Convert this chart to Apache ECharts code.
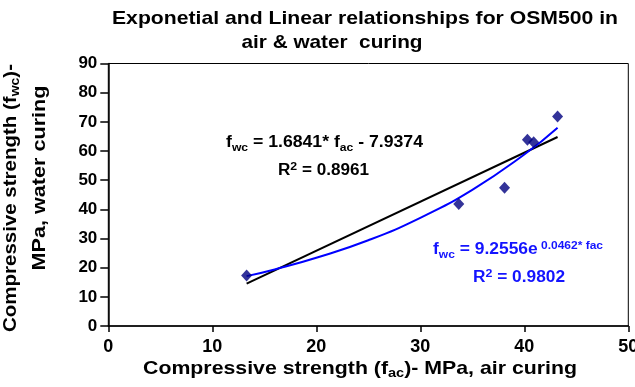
<!DOCTYPE html>
<html><head><meta charset="utf-8">
<script src="https://cdn.jsdelivr.net/npm/echarts@6/dist/echarts.min.js"></script>
<style>html,body{margin:0;padding:0;background:#fff}#c{width:635px;height:387px}</style>
</head><body><div id="c"></div>
<script>
// Observed data: air curing (x) vs water curing (y), MPa
const xAir = [13.3, 33.7, 38.1, 40.3, 40.9, 43.2];
const yWater = [17.3, 41.8, 47.4, 63.9, 63.0, 71.8];
// Linear trendline (end points)
const linX = [13.3, 43.2];
const linY = [14.5, 64.8];
// Exponential trendline
const expX = [13.3, 16, 20, 25, 30, 35, 40, 43.2];
const expY = [17.1, 19.4, 23.4, 29.4, 37.1, 46.7, 58.8, 68.0];
const xTicks = [0, 10, 20, 30, 40, 50];
const yTicks = [0, 10, 20, 30, 40, 50, 60, 70, 80, 90];

const FAM = '"Liberation Sans", Arial, sans-serif';
const pair = (xs, ys) => xs.map((x, i) => [x, ys[i]]);

const ctx = document.createElement('canvas').getContext('2d');
function segWidth(text, size, pad) {
  ctx.font = 'bold ' + size + 'px ' + FAM;
  return ctx.measureText(text).width + (pad || 0);
}
// segs: [styleName, text]; styles: {name: {size, lh, va, pad}}
function richText(cx, cy, segs, styles, targetW, color, rot) {
  let w = 0;
  const rich = {};
  Object.keys(styles).forEach(k => {
    const s = styles[k];
    rich[k] = { fontSize: s.size, fontWeight: 'bold', fontFamily: FAM, fill: color, lineHeight: s.lh, verticalAlign: s.va || 'middle' };
    if (s.pad) rich[k].padding = [0, 0, 0, s.pad];
  });
  segs.forEach(([k, t]) => { w += segWidth(t, styles[k].size, styles[k].pad); });
  const text = segs.map(([k, t]) => '{' + k + '|' + t + '}').join('');
  return {
    type: 'text', x: cx, y: cy, rotation: rot || 0, scaleX: targetW / w, z: 100,
    style: { text, rich, align: 'center', verticalAlign: 'middle', fill: color }
  };
}
const base = (size) => ({
  a: { size: size, lh: 20 },
  s: { size: 11, lh: 10, va: 'bottom' },
  p: { size: 11.5, lh: 9, va: 'top' },
  e: { size: 11, lh: 9.4, va: 'top', pad: 3 }
});

const BLUE = '#1414ff';
const chart = echarts.init(document.getElementById('c'));
chart.setOption({
  animation: false,
  backgroundColor: '#fff',
  grid: { left: 108.3, right: 6.7, top: 63.5, bottom: 61, outerBoundsMode: 'none', containLabel: false,
          show: true, borderColor: '#000', borderWidth: 1, backgroundColor: 'transparent' },
  xAxis: {
    type: 'value', min: xTicks[0], max: xTicks[xTicks.length - 1], interval: 10,
    splitLine: { show: false },
    axisLine: { lineStyle: { color: '#000', width: 1.5 } },
    axisTick: { show: true, inside: false, length: 6, lineStyle: { color: '#000', width: 1.5 } },
    axisLabel: { color: '#000', fontSize: 18, fontWeight: 'bold', fontFamily: FAM, margin: 12 }
  },
  yAxis: {
    type: 'value', min: yTicks[0], max: yTicks[yTicks.length - 1], interval: 10,
    splitLine: { show: false },
    axisLine: { show: true, lineStyle: { color: '#000', width: 1.5 } },
    axisTick: { show: true, inside: false, length: 8, lineStyle: { color: '#000', width: 1.5 } },
    axisLabel: { color: '#000', fontSize: 17, fontWeight: 'bold', fontFamily: FAM, margin: 11 }
  },
  graphic: [
    richText(365, 18.5, [['a', 'Exponetial and Linear relationships for OSM500 in']], { a: { size: 18.5, lh: 22 } }, 506, '#000'),
    richText(332, 43, [['a', 'air & water  curing']], { a: { size: 18.5, lh: 22 } }, 181, '#000'),
    richText(360, 369, [['a', 'Compressive strength (f'], ['s', 'ac'], ['a', ')- MPa, air curing']],
      { a: { size: 19, lh: 22 }, s: { size: 13, lh: 11, va: 'bottom' } }, 434, '#000'),
    richText(11, 198, [['a', 'Compressive strength (f'], ['s', 'wc'], ['a', ')-']],
      { a: { size: 19, lh: 22 }, s: { size: 13, lh: 11, va: 'bottom' } }, 268, '#000', Math.PI / 2),
    richText(40, 178, [['a', 'MPa, water curing']], { a: { size: 19, lh: 22 } }, 185, '#000', Math.PI / 2),
    richText(324.5, 143, [['a', 'f'], ['s', 'wc'], ['a', ' = 1.6841* f'], ['s', 'ac'], ['a', ' - 7.9374']], base(16), 197, '#000'),
    richText(323.5, 171, [['a', 'R'], ['p', '2'], ['a', ' = 0.8961']], base(16), 91, '#000'),
    richText(518, 250, [['a', 'f'], ['s', 'wc'], ['a', ' = 9.2556e'], ['e', '0.0462* fac']], base(16), 170, BLUE),
    richText(519, 278, [['a', 'R'], ['p', '2'], ['a', ' = 0.9802']], base(16), 92, BLUE)
  ],
  series: [
    { type: 'line', data: pair(linX, linY), symbol: 'none', lineStyle: { color: '#000', width: 2 }, z: 2 },
    { type: 'line', data: pair(expX, expY), symbol: 'none', smooth: true, lineStyle: { color: '#0000ff', width: 2 }, z: 3 },
    { type: 'scatter', data: pair(xAir, yWater), symbol: 'diamond', symbolSize: [11, 12], itemStyle: { color: '#000080' }, z: 4 }
  ]
});
</script></body></html>
